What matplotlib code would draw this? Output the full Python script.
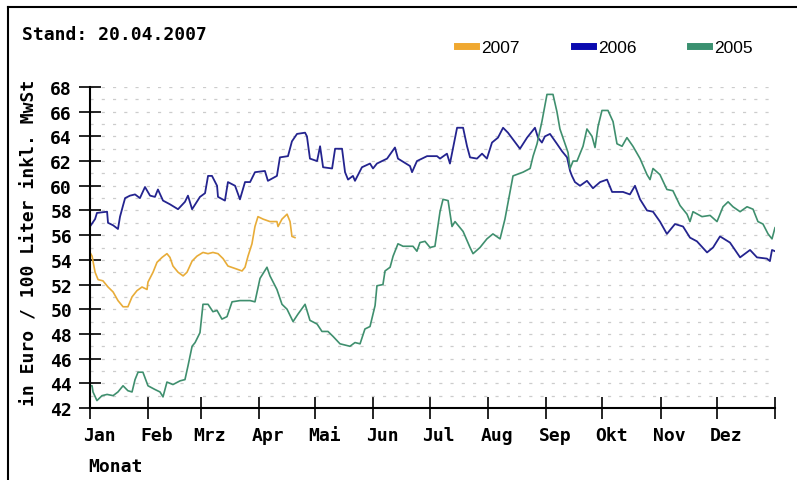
import matplotlib
matplotlib.use("Agg")
import matplotlib.pyplot as plt
from matplotlib.lines import Line2D
from matplotlib.transforms import ScaledTranslation

# day of year / price in Euro per 100 litre
days_2007 = [0, 1.1, 2.7, 4.3, 6.9, 9.6, 12.3, 14.9, 17.6, 20.2, 22.4, 25.0, 27.7, 30.4, 30.9,
             33.6, 35.7, 38.4, 41.0, 42.6, 44.2, 46.9, 49.6, 51.7, 54.4, 57.0, 60.2, 62.9, 65.5,
             68.2, 70.9, 73.5, 77.3, 81.0, 82.6, 84.2, 86.3, 87.9, 89.5, 92.2, 95.9, 99.6, 100.2,
             102.3, 105.0, 106.6, 107.6, 109.2]
price_2007 = [54.6, 54.3, 53.0, 52.4, 52.3, 51.8, 51.4, 50.7, 50.2, 50.2, 51.0, 51.5, 51.8, 51.6, 52.2,
              53.0, 53.8, 54.2, 54.5, 54.2, 53.5, 53.0, 52.7, 53.0, 53.9, 54.3, 54.6, 54.5, 54.6,
              54.5, 54.1, 53.5, 53.3, 53.1, 53.4, 54.3, 55.3, 56.7, 57.5, 57.3, 57.1, 57.1, 56.7,
              57.3, 57.7, 57.1, 55.9, 55.8]

days_2006 = [0, 2.7, 3.7, 9.1, 9.6, 12.3, 14.9, 16.0, 17.6, 18.7, 21.3, 24.0, 26.6, 29.3, 32.0, 34.6,
             36.2, 38.9, 42.6, 46.9, 50.6, 52.2, 54.4, 58.6, 61.3, 62.9, 65.0, 67.7, 68.2, 71.9, 73.5,
             77.3, 79.9, 82.6, 85.3, 87.9, 93.2, 94.8, 99.6, 101.2, 105.5, 107.6, 110.3, 114.6, 115.6,
             117.2, 121.0, 122.6, 124.2, 129.0, 130.6, 134.3, 135.9, 137.5, 140.1, 141.2, 144.9, 149.2,
             150.8, 152.9, 158.3, 162.5, 164.1, 170.5, 171.6, 174.2, 179.6, 184.9, 186.5, 190.2, 191.8,
             195.6, 198.8, 200.9, 202.5, 206.2, 208.9, 211.5, 214.2, 217.4, 220.1, 222.7, 229.1, 232.9,
             237.1, 238.7, 240.8, 242.4, 245.1, 248.8, 251.5, 254.2, 255.8, 256.8, 258.4, 261.1, 264.8,
             268.0, 271.8, 275.5, 278.2, 284.0, 287.7, 290.4, 293.1, 296.8, 300.0, 303.7, 307.4, 311.7,
             316.0, 319.7, 323.4, 328.8, 332.0, 335.7, 341.0, 346.4, 351.7, 355.4, 360.7, 362.3, 363.4,
             365]
price_2006 = [56.7, 57.3, 57.8, 57.9, 57.0, 56.8, 56.5, 57.5, 58.4, 59.0, 59.2, 59.3, 59.0, 59.9, 59.2, 59.1,
              59.7, 58.8, 58.5, 58.1, 58.7, 59.2, 58.1, 59.1, 59.4, 60.8, 60.8, 60.0, 59.1, 58.8, 60.3,
              60.0, 58.9, 60.3, 60.3, 61.1, 61.2, 60.4, 60.8, 62.3, 62.4, 63.6, 64.2, 64.3, 64.0,
              62.2, 62.0, 63.2, 61.5, 61.4, 63.0, 63.0, 61.1, 60.5, 60.8, 60.4, 61.5, 61.8,
              61.4, 61.8, 62.2, 63.1, 62.2, 61.6, 61.1, 62.0, 62.4, 62.4, 62.2, 62.6, 61.8,
              64.7, 64.7, 63.2, 62.3, 62.2, 62.6, 62.2, 63.5, 63.9, 64.7, 64.3, 63.0, 63.9,
              64.7, 63.9, 63.5, 64.0, 64.2, 63.4, 62.8, 62.3, 61.2, 60.8, 60.3, 60.0, 60.4,
              59.8, 60.3, 60.5, 59.5, 59.5, 59.3, 60.0, 58.9, 58.0, 57.9, 57.1, 56.1, 56.9,
              56.7, 55.8, 55.5, 54.6, 55.0, 55.9, 55.4, 54.2, 54.8, 54.2, 54.1, 53.9, 54.8,
              54.7]

days_2005 = [0, 1.1, 1.6, 3.7, 6.4, 9.1, 12.3, 14.9, 17.6, 20.2, 22.4, 24.0, 25.6, 28.2, 30.9, 34.6,
             37.3, 38.9, 41.0, 44.2, 48.0, 50.6, 52.2, 54.4, 56.0, 58.6, 60.2, 62.9, 65.5, 67.7, 70.3,
             73.0, 75.7, 79.9, 85.3, 87.9, 90.6, 94.3, 95.9, 99.6, 102.3, 105.0, 108.2, 110.8, 114.6,
             117.2, 121.0, 123.6, 126.8, 129.5, 133.2, 138.5, 141.2, 143.9, 146.5, 149.2, 151.9, 152.9,
             156.1, 157.2, 159.9, 161.5, 164.1, 166.8, 172.1, 174.2, 175.8, 178.5, 181.2, 183.8, 186.5,
             188.1, 190.8, 192.9, 194.5, 198.8, 202.5, 204.1, 207.8, 211.5, 214.7, 218.5, 221.1, 223.8,
             225.4, 230.7, 234.5, 236.1, 238.2, 240.8, 243.5, 246.7, 248.8, 250.4, 253.1, 254.7, 255.8,
             257.4, 259.5, 262.7, 264.8, 267.5, 269.1, 270.7, 272.8, 276.0, 278.7, 280.8, 283.5, 286.1,
             289.3, 293.1, 296.8, 298.4, 300.0, 303.7, 307.4, 310.6, 314.4, 318.1, 319.7, 321.3, 326.1,
             330.4, 334.1, 337.3, 340.0, 342.6, 346.4, 350.1, 353.3, 355.9, 358.6, 361.3, 363.4, 365]
price_2005 = [43.8, 43.8, 43.3, 42.6, 43.0, 43.1, 43.0, 43.3, 43.8, 43.4, 43.3, 44.3, 44.9, 44.9, 43.8, 43.5,
              43.3, 42.9, 44.1, 43.9, 44.2, 44.3, 45.4, 47.0, 47.3, 48.1, 50.4, 50.4, 49.8, 49.9, 49.2,
              49.4, 50.6, 50.7, 50.7, 50.6, 52.5, 53.4, 52.7, 51.6, 50.4, 50.0, 49.0, 49.6, 50.4,
              49.1, 48.8, 48.2, 48.2, 47.8, 47.2, 47.0, 47.3, 47.2, 48.4, 48.6, 50.3, 51.9,
              52.0, 53.1, 53.4, 54.3, 55.3, 55.1, 55.1, 54.7, 55.4, 55.5, 55.0, 55.1, 57.9,
              58.9, 58.8, 56.7, 57.1, 56.3, 55.0, 54.5, 55.0, 55.7, 56.1, 55.7, 57.3, 59.5,
              60.8, 61.1, 61.4, 62.4, 63.4, 65.2, 67.4, 67.4, 66.0, 64.6, 63.4, 62.7, 61.4,
              62.0, 62.0, 63.2, 64.6, 64.0, 63.1, 64.8, 66.1, 66.1, 65.2, 63.4, 63.2, 63.9,
              63.2, 62.2, 60.9, 60.5, 61.4, 60.9, 59.7, 59.6, 58.4, 57.7, 57.1, 57.9, 57.5,
              57.6, 57.1, 58.3, 58.7, 58.3, 57.9, 58.3, 58.1, 57.1, 56.9, 56.1, 55.7, 56.6]

month_starts = [0, 31, 59, 90, 120, 151, 181, 212, 243, 273, 304, 334, 365]
month_labels = ["Jan", "Feb", "Mrz", "Apr", "Mai", "Jun", "Jul", "Aug", "Sep", "Okt", "Nov", "Dez", ""]

mono = "DejaVu Sans Mono"

fig = plt.figure(figsize=(7.97, 4.81), dpi=100)
ax = fig.add_axes([90/797, 1-409/481, 685/797, 321/481])

l07, = ax.plot(days_2007, price_2007, color="#e8ac38", lw=1.2)
l06, = ax.plot(days_2006, price_2006, color="#24248f", lw=1.3)
l05, = ax.plot(days_2005, price_2005, color="#3f8f6e", lw=1.2)

ax.set_xlim(0, 365)
ax.set_ylim(42, 68)
ax.set_yticks(range(42, 69, 2))
ax.set_yticks(range(42, 69), minor=True)
ax.set_xticks(month_starts)
ax.set_xticklabels(month_labels)

for s in ["top", "right"]:
    ax.spines[s].set_visible(False)
for s in ["left", "bottom"]:
    ax.spines[s].set_linewidth(1.5)

ax.tick_params(which="major", direction="inout", length=16, width=1.2, pad=5)
ax.tick_params(which="minor", length=0)
ax.grid(axis="y", which="both", color="#cccccc", linestyle=(0, (2.5, 6.5)), lw=0.9)
ax.set_axisbelow(True)

for lab in ax.get_xticklabels() + ax.get_yticklabels():
    lab.set_fontfamily(mono)
    lab.set_fontweight("bold")
    lab.set_fontsize(13)

# month names sit a little right of the tick
off = ScaledTranslation(9/100, 0, fig.dpi_scale_trans)
for lab in ax.get_xticklabels():
    lab.set_transform(lab.get_transform() + off)

fig.text(22/797, 1-35/481, "Stand: 20.04.2007", family=mono, weight="bold", size=13, va="center")
fig.text(30/797, 1-243/481, "in Euro / 100 Liter inkl. MwSt", family=mono, weight="bold",
         size=13, rotation=90, ha="center", va="center")
fig.text(88/797, 1-467/481, "Monat", family=mono, weight="bold", size=13, va="center")

handles = [Line2D([], [], color="#f0a830", lw=5),
           Line2D([], [], color="#0a0ab0", lw=5),
           Line2D([], [], color="#3a9070", lw=5)]
fig.legend(handles, ["2007", "2006", "2005"], loc="center left",
           bbox_to_anchor=(457/797, 1-48/481), ncol=3, frameon=False,
           prop={"family": "Liberation Sans", "size": 12.5},
           handlelength=1.1, handletextpad=0.3, columnspacing=3.1,
           borderpad=0, borderaxespad=0)

# outer frame (top and left edges)
fig.add_artist(Line2D([8/797, 1], [1-8/481, 1-8/481], color="black", lw=1.5, transform=fig.transFigure))
fig.add_artist(Line2D([8/797, 8/797], [0, 1-8/481], color="black", lw=1.5, transform=fig.transFigure))

fig.savefig("out.png", dpi=100)
